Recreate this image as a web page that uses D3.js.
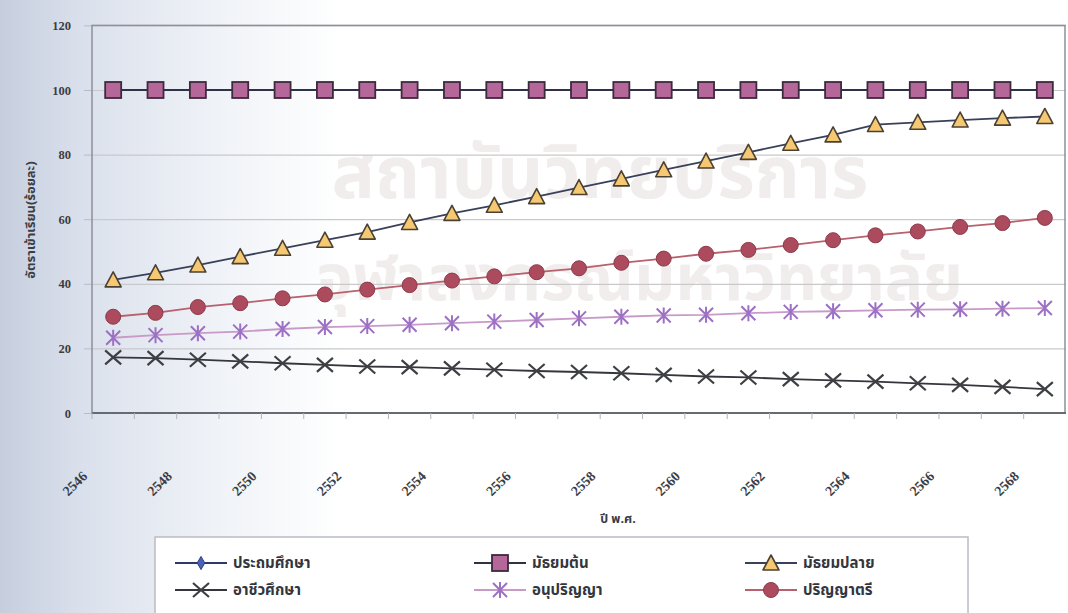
<!DOCTYPE html>
<html>
<head>
<meta charset="utf-8">
<script src="https://cdn.jsdelivr.net/npm/d3@7"></script>
<style>
  body { margin: 0; background: #fff; }
  svg { display: block; }
  .thai { font-family: "Noto Sans Thai", "Loma", "Garuda", "Tahoma", "Noto Sans", sans-serif; }
  .num { font-family: "Liberation Serif", "DejaVu Serif", serif; font-weight: bold; }
</style>
</head>
<body>
<svg id="chart" width="1068" height="613"></svg>
<script>
// Academic years (B.E.)
const years = ["2546","2547","2548","2549","2550","2551","2552","2553","2554","2555","2556","2557",
               "2558","2559","2560","2561","2562","2563","2564","2565","2566","2567","2568"];
const yearTickLabels = ["2546","2548","2550","2552","2554","2556","2558","2560","2562","2564","2566","2568"];
const yTicks = [0, 20, 40, 60, 80, 100, 120];

// Enrolment rate (%) by level
const primary        = [100,100,100,100,100,100,100,100,100,100,100,100,100,100,100,100,100,100,100,100,100,100,100];
const lowerSecondary = [100,100,100,100,100,100,100,100,100,100,100,100,100,100,100,100,100,100,100,100,100,100,100];
const upperSecondary = [41.2,43.4,45.8,48.4,51.0,53.5,56.0,59.0,61.8,64.3,67.0,69.8,72.5,75.3,78.0,80.7,83.5,86.1,89.3,90.0,90.7,91.3,91.8];
const vocational     = [17.2,17.0,16.5,16.0,15.4,14.9,14.4,14.2,13.8,13.4,13.0,12.7,12.3,11.8,11.3,11.0,10.5,10.1,9.7,9.2,8.7,8.1,7.4];
const diploma        = [23.3,24.1,24.7,25.2,26.0,26.6,26.9,27.3,27.8,28.3,28.8,29.3,29.8,30.2,30.4,30.9,31.3,31.5,31.8,32.0,32.1,32.3,32.5];
const bachelor       = [29.8,31.0,32.8,34.0,35.5,36.7,38.2,39.6,41.0,42.3,43.6,44.8,46.5,47.8,49.3,50.5,52.0,53.5,55.0,56.2,57.6,58.8,60.4];

const seriesNames = ["ประถมศึกษา","มัธยมต้น","มัธยมปลาย","อาชีวศึกษา","อนุปริญญา","ปริญญาตรี"];

const svg = d3.select("#chart");
const W = 1068, H = 613;
const plot = { left: 92, right: 1066, top: 25.4, bottom: 413 };

// page tint
const defs = svg.append("defs");
const grad = defs.append("linearGradient").attr("id", "pageTint")
  .attr("x1", "0").attr("x2", "1").attr("y1", "0").attr("y2", "0");
grad.append("stop").attr("offset", "0").attr("stop-color", "#c6cede");
grad.append("stop").attr("offset", "0.08").attr("stop-color", "#dbe1ec");
grad.append("stop").attr("offset", "0.2").attr("stop-color", "#eff2f7");
grad.append("stop").attr("offset", "0.32").attr("stop-color", "#ffffff");
grad.append("stop").attr("offset", "1").attr("stop-color", "#ffffff");
svg.append("rect").attr("width", W).attr("height", H).attr("fill", "url(#pageTint)");

// faint library watermark
const wm = svg.append("g").attr("class", "thai").attr("fill", "#e6e0e0").attr("opacity", 0.55)
  .attr("font-weight", "bold").attr("text-anchor", "middle");
wm.append("text").attr("x", 600).attr("y", 198).attr("font-size", 72).text("สถาบันวิทยบริการ");
wm.append("text").attr("x", 640).attr("y", 300).attr("font-size", 64).text("จุฬาลงกรณ์มหาวิทยาลัย");

const x = d3.scaleBand().domain(years).range([plot.left, plot.right]).padding(0);
const cx = d => x(d) + x.bandwidth() / 2;
const y = d3.scaleLinear().domain([0, 120]).range([plot.bottom, plot.top]);

// gridlines
svg.append("g")
  .attr("transform", `translate(${plot.left},0)`)
  .call(d3.axisLeft(y).tickValues(yTicks).tickSize(-(plot.right - plot.left)).tickFormat(""))
  .call(g => g.select(".domain").remove())
  .call(g => g.selectAll("line").attr("stroke", "#c9c9cc").attr("stroke-width", 1.2));

// small outer ticks on the value axis
svg.append("g")
  .attr("transform", `translate(${plot.left},0)`)
  .call(d3.axisLeft(y).tickValues(yTicks).tickSize(8).tickFormat(""))
  .call(g => g.select(".domain").remove())
  .call(g => g.selectAll("line").attr("stroke", "#b8bcc6"));

// plot frame
svg.append("rect")
  .attr("x", plot.left).attr("y", plot.top)
  .attr("width", plot.right - plot.left - 1).attr("height", plot.bottom - plot.top)
  .attr("fill", "none").attr("stroke", "#8d9099").attr("stroke-width", 1.5);

// category axis with ticks between years
const xAxis = svg.append("g").attr("transform", `translate(0,${plot.bottom})`);
xAxis.append("line").attr("x1", plot.left).attr("x2", plot.right).attr("stroke", "#666a72").attr("stroke-width", 2);
xAxis.selectAll("line.tick").data(years).join("line")
  .attr("class", "tick")
  .attr("x1", d => x(d)).attr("x2", d => x(d))
  .attr("y1", 0).attr("y2", 6).attr("stroke", "#b0b3ba");

// value axis labels
svg.append("g").attr("class", "num").attr("font-size", 12.5).attr("fill", "#3a3d44")
  .selectAll("text").data(yTicks).join("text")
  .attr("x", 71).attr("y", d => y(d) + 4.5).attr("text-anchor", "end")
  .text(d => d);

// rotated year labels
svg.append("g").attr("class", "num").attr("font-size", 14).attr("fill", "#3a3d44")
  .selectAll("text").data(yearTickLabels).join("text")
  .attr("text-anchor", "end")
  .attr("transform", d => `translate(${cx(d) - 25},${plot.bottom + 64}) rotate(-45)`)
  .text(d => d);

// axis titles
svg.append("text").attr("class", "thai").attr("font-size", 13).attr("font-weight", "bold").attr("fill", "#3a3d44")
  .attr("text-anchor", "middle")
  .attr("transform", `translate(35,220) rotate(-90)`)
  .text("อัตราเข้าเรียน(ร้อยละ)");
svg.append("text").attr("class", "thai").attr("font-size", 12.5).attr("font-weight", "bold").attr("fill", "#3a3d44")
  .attr("x", 618).attr("y", 523).attr("text-anchor", "middle")
  .text("ปี พ.ศ.");

// marker painters
const markers = {
  diamond: (g) => g.append("path").attr("d", d3.symbol(d3.symbolDiamond, 50)())
    .attr("fill", "#4a63b8").attr("stroke", "#2c3f80").attr("stroke-width", 1),
  square: (g) => g.append("rect").attr("x", -8).attr("y", -8).attr("width", 16).attr("height", 16)
    .attr("fill", "#b5679a").attr("stroke", "#3d2a3e").attr("stroke-width", 1.8),
  triangle: (g) => g.append("path").attr("d", "M0,-8L8,7L-8,7Z")
    .attr("fill", "#f6c872").attr("stroke", "#4a4034").attr("stroke-width", 1.6).attr("stroke-linejoin", "round"),
  cross: (g) => g.append("path").attr("d", "M-8,-7L8,7M-8,7L8,-7")
    .attr("stroke", "#3e3f44").attr("stroke-width", 2.2).attr("fill", "none"),
  star: (g) => g.append("path").attr("d", "M-7,-7L7,7M-7,7L7,-7M0,-8L0,8")
    .attr("stroke", "#9c70c4").attr("stroke-width", 2).attr("fill", "none"),
  circle: (g) => g.append("circle").attr("r", 7.5)
    .attr("fill", "#ad4b5e").attr("stroke", "#8d3a4a").attr("stroke-width", 1)
};

const series = [
  { name: seriesNames[0], values: primary,        line: "#2e3a66", marker: "diamond" },
  { name: seriesNames[1], values: lowerSecondary, line: "#2f3148", marker: "square" },
  { name: seriesNames[2], values: upperSecondary, line: "#39405a", marker: "triangle" },
  { name: seriesNames[3], values: vocational,     line: "#35363b", marker: "cross" },
  { name: seriesNames[4], values: diploma,        line: "#c89ac8", marker: "star" },
  { name: seriesNames[5], values: bachelor,       line: "#b9606e", marker: "circle" }
];

const line = d3.line().x((d, i) => cx(years[i])).y(d => y(d));

series.forEach(s => {
  const g = svg.append("g");
  g.append("path").datum(s.values).attr("d", line)
    .attr("fill", "none").attr("stroke", s.line).attr("stroke-width", 1.8);
  g.selectAll("g.m").data(s.values).join("g")
    .attr("class", "m")
    .attr("transform", (d, i) => `translate(${cx(years[i])},${y(d)})`)
    .each(function () { markers[s.marker](d3.select(this)); });
});

// legend
const legend = svg.append("g");
legend.append("rect").attr("x", 155).attr("y", 537).attr("width", 813).attr("height", 90)
  .attr("fill", "#fff").attr("stroke", "#b9bcc4").attr("stroke-width", 1.5);
const colX = [175, 474, 745];
const rowY = [563, 590];
series.forEach((s, i) => {
  const lx = colX[i % 3], ly = rowY[Math.floor(i / 3)];
  const g = legend.append("g").attr("transform", `translate(${lx},${ly})`);
  g.append("line").attr("x1", 0).attr("x2", 52).attr("stroke", s.line).attr("stroke-width", 1.8);
  markers[s.marker](g.append("g").attr("transform", "translate(26,0)"));
  g.append("text").attr("class", "thai").attr("x", 58).attr("y", 5)
    .attr("font-size", 15).attr("font-weight", "bold").attr("fill", "#33363d")
    .text(s.name);
});
</script>
</body>
</html>
